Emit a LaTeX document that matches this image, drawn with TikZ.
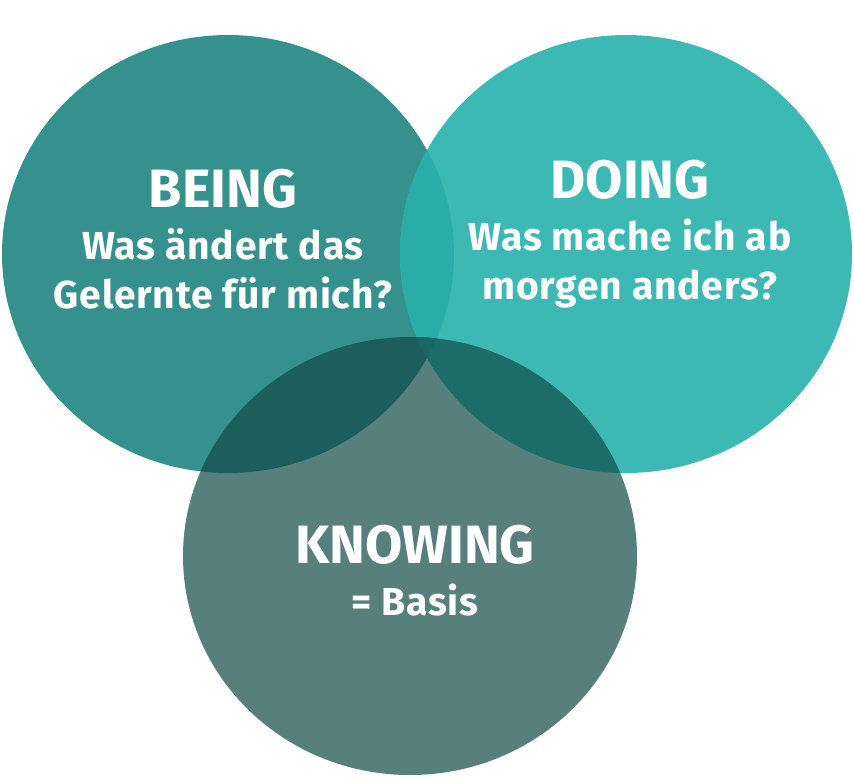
\documentclass[tikz,border=0pt]{standalone}
\usepackage{fontspec}
\setmainfont{Fira Sans}[BoldFont={Fira Sans Bold}]
\usepackage{tikz}
\usetikzlibrary{positioning}
\definecolor{beingc}{HTML}{34918E}
\definecolor{doingc}{HTML}{3CB9B5}
\definecolor{knowingc}{HTML}{577F7C}
\definecolor{bdc}{HTML}{2AADA8}
\definecolor{bkc}{HTML}{1B5E5D}
\definecolor{dkc}{HTML}{1C6C69}
\definecolor{bdkc}{HTML}{1A6664}
\tikzstyle{title}=[text=white,inner sep=0pt,font=\bfseries\fontsize{54}{54}\selectfont]
\tikzstyle{sub}=[text=white,inner sep=0pt,align=center,font=\bfseries\fontsize{39}{49}\selectfont\addfontfeatures{LetterSpace=2}]
\def\beingc{(228,254) ellipse [x radius=226, y radius=219]}
\def\doingc{(626,254) ellipse [x radius=226, y radius=219]}
\def\knowingc{(410,556) ellipse [x radius=227, y radius=219]}
\begin{document}
\begin{tikzpicture}[x=1pt,y=-1pt]
    \useasboundingbox (0,0) rectangle (854,782);
    % the three rings
    \fill [beingc] \beingc;
    \fill [doingc] \doingc;
    \begin{scope}
      \clip \beingc;
      \fill [bdc] \doingc;
    \end{scope}
    \fill [knowingc] \knowingc;
    \begin{scope}
      \clip \knowingc;
      \fill [bkc] \beingc;
      \fill [dkc] \doingc;
      \clip \beingc;
      \fill [bdkc] \doingc;
    \end{scope}
    % labels
    \node [title,anchor=base] (being) at (223,207) {BEING};
    \node [sub,below=20pt of being] (beingq) {Was ändert das\\Gelernte für mich?};
    \node [title,anchor=base] (doing) at (630,198) {DOING};
    \node [sub,below=20pt of doing] (doingq) {Was mache ich ab\\morgen anders?};
    \node [title,anchor=base] (knowing) at (415,563) {KNOWING};
    \node [sub,below=20pt of knowing] (knowingq) {= Basis};
\end{tikzpicture}
\end{document}
